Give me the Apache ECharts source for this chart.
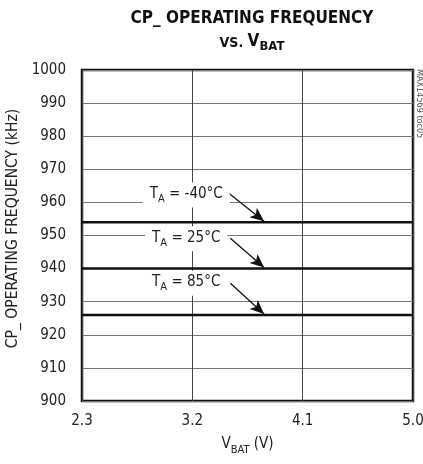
<!DOCTYPE html>
<html>
<head>
<meta charset="utf-8">
<script src="https://cdn.jsdelivr.net/npm/echarts@6/dist/echarts.min.js"></script>
<style>html,body{margin:0;padding:0;background:#fff;}#c{width:423px;height:464px;}</style>
</head>
<body>
<div id="c"></div>
<script>
var FONT = "'Liberation Sans Narrow','DejaVu Sans Condensed','Roboto',sans-serif";
var vbat = [2.3, 2.75, 3.2, 3.65, 4.1, 4.55, 5.0];
var xTicks = [2.3, 3.2, 4.1, 5.0];
var xTickLabels = ['2.3', '3.2', '4.1', '5.0'];
var freqM40 = [954, 954, 954, 954, 954, 954, 954];
var freq25 = [940, 940, 940, 940, 940, 940, 940];
var freq85 = [926, 926, 926, 926, 926, 926, 926];
var seriesNames = ['-40°C', '25°C', '85°C'];
// annotation: label position, arrow start, arrow end (data coords)
var labelPos = [[3.15, 962.2], [3.15, 949.0], [3.15, 935.6]];
var arrowFrom = [[3.49, 963.0], [3.51, 949.2], [3.51, 935.6]];
var arrowTo = [[3.785, 954.3], [3.785, 940.3], [3.785, 926.3]];

var chart = echarts.init(document.getElementById('c'), null, {renderer: 'canvas'});

var richLbl = {
  m: {fontFamily: FONT, fontSize: 15, color: '#222', verticalAlign: 'bottom', padding: [0, 0, 3, 0]},
  s: {fontFamily: FONT, fontSize: 11, color: '#222', verticalAlign: 'bottom', padding: [0, 0, 0, 0]}
};

function mkSeries(i, vals) {
  return {
    type: 'line',
    name: seriesNames[i],
    data: vbat.map(function (x, k) { return [x, vals[k]]; }),
    showSymbol: false,
    symbol: 'none',
    lineStyle: {color: '#111', width: 2.5},
    z: 3,
    silent: true,
    markLine: {
      silent: true,
      symbol: ['none', 'arrow'],
      symbolSize: [9, 14],
      label: {show: false},
      lineStyle: {color: '#111', width: 1.3, type: 'solid'},
      data: [[{coord: arrowFrom[i]}, {coord: arrowTo[i]}]]
    },
    markPoint: {
      silent: true,
      symbol: 'rect',
      symbolSize: 0,
      label: {
        show: true,
        position: 'inside',
        backgroundColor: '#fff',
        padding: [4, 7, 3, 7],
        formatter: '{m|T}{s|A}{m| = ' + seriesNames[i] + '}',
        rich: richLbl
      },
      data: [{coord: labelPos[i]}]
    }
  };
}

chart.setOption({
  animation: false,
  backgroundColor: '#fff',
  title: {
    left: 247, top: 2, textAlign: 'center',
    text: '{b|CP_ OPERATING FREQUENCY}\n{v|VS. }{b|V}{sb|BAT}',
    textStyle: {
      rich: {
        b: {fontFamily: FONT, fontWeight: 'bold', fontSize: 17, color: '#111', verticalAlign: 'bottom', padding: [0, 0, 3, 0], lineHeight: 23},
        v: {fontFamily: FONT, fontWeight: 'bold', fontSize: 14, color: '#111', verticalAlign: 'bottom', padding: [0, 0, 3, 0]},
        sb: {fontFamily: FONT, fontWeight: 'bold', fontSize: 13, color: '#111', verticalAlign: 'bottom', padding: [0, 0, 0, 0]}
      }
    }
  },
  grid: {left: 82, right: 10, top: 70, bottom: 63, outerBoundsMode: 'none', containLabel: false,
    show: true, borderColor: '#111', borderWidth: 2.5, backgroundColor: 'transparent'},
  xAxis: {
    type: 'value', min: 2.3, max: 5.0,
    name: '{m|V}{s|BAT}{m| (V)}',
    nameLocation: 'middle', nameGap: 36,
    nameTextStyle: {rich: {
      m: {fontFamily: FONT, fontSize: 15, color: '#222', verticalAlign: 'bottom', padding: [0, 0, 4, 0]},
      s: {fontFamily: FONT, fontSize: 11, color: '#222', verticalAlign: 'bottom'}
    }},
    axisLine: {show: false},
    axisTick: {show: false, customValues: xTicks},
    axisLabel: {customValues: xTicks, fontFamily: FONT, fontSize: 15, color: '#222', margin: 13,
      formatter: function (v) { var i = xTicks.indexOf(v); return i >= 0 ? xTickLabels[i] : ''; }},
    splitLine: {show: true, lineStyle: {color: '#444', width: 1}}
  },
  yAxis: {
    type: 'value', min: 900, max: 1000, interval: 10,
    name: 'CP_ OPERATING FREQUENCY (kHz)',
    nameLocation: 'middle', nameGap: 52,
    nameTextStyle: {fontFamily: FONT, fontSize: 15.5, color: '#222', padding: [0, 0, 0, 14]},
    axisLine: {show: false},
    axisTick: {show: false},
    axisLabel: {fontFamily: FONT, fontSize: 15, color: '#222', margin: 16,
      formatter: function (v) { return String(v); }},
    splitLine: {show: true, lineStyle: {color: '#777', width: 1}}
  },
  graphic: [{
    type: 'text', x: 419, y: 69, rotation: -Math.PI / 2, silent: true,
    style: {text: 'MAX14569 toc05', fontFamily: FONT, fontSize: 9, fill: '#555', textAlign: 'left', textVerticalAlign: 'middle'}
  }],
  series: [mkSeries(0, freqM40), mkSeries(1, freq25), mkSeries(2, freq85)]
});
</script>
</body>
</html>
